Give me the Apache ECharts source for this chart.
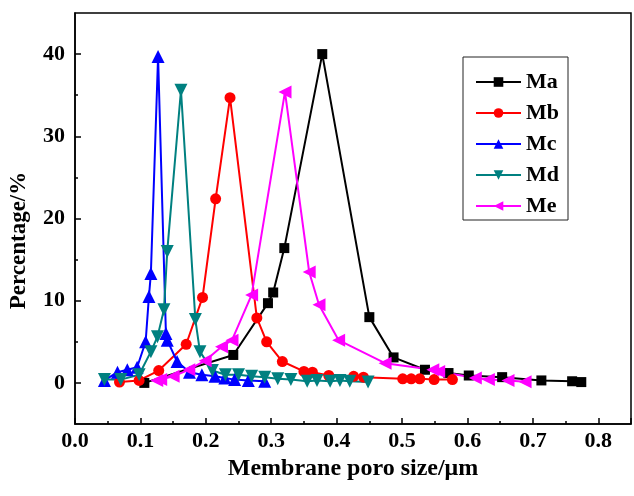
<!DOCTYPE html>
<html>
<head>
<meta charset="utf-8">
<script src="https://cdn.jsdelivr.net/npm/echarts@6/dist/echarts.min.js"></script>
<style>
html,body{margin:0;padding:0;background:#fff;}
#chart{width:634px;height:496px;}
</style>
</head>
<body>
<div id="chart"></div>
<script>
const seriesNames = ['Ma', 'Mb', 'Mc', 'Md', 'Me'];
const Ma = [[0.106,0.0],[0.242,3.4],[0.295,9.7],[0.303,11.0],[0.320,16.4],[0.378,40.0],[0.450,8.0],[0.487,3.1],[0.535,1.6],[0.571,1.2],[0.602,0.9],[0.653,0.7],[0.713,0.3],[0.760,0.2],[0.774,0.1]];
const Mb = [[0.068,0.1],[0.098,0.3],[0.128,1.5],[0.170,4.7],[0.195,10.4],[0.215,22.4],[0.237,34.7],[0.278,7.9],[0.293,5.0],[0.317,2.6],[0.350,1.4],[0.363,1.3],[0.388,0.9],[0.426,0.8],[0.441,0.7],[0.501,0.5],[0.514,0.5],[0.527,0.5],[0.549,0.4],[0.577,0.4]];
const Mc = [[0.045,0.3],[0.065,1.3],[0.080,1.6],[0.095,1.9],[0.108,5.0],[0.113,10.5],[0.116,13.3],[0.127,39.7],[0.139,6.0],[0.141,5.2],[0.156,2.6],[0.175,1.3],[0.194,1.0],[0.214,0.8],[0.229,0.6],[0.244,0.4],[0.265,0.3],[0.290,0.2]];
const Md = [[0.045,0.4],[0.070,0.4],[0.098,1.0],[0.116,3.8],[0.126,5.6],[0.136,8.9],[0.141,16.0],[0.162,35.6],[0.184,7.7],[0.191,3.8],[0.210,1.5],[0.230,1.0],[0.250,1.0],[0.270,0.8],[0.290,0.7],[0.310,0.5],[0.330,0.4],[0.355,0.2],[0.370,0.3],[0.390,0.2],[0.405,0.3],[0.420,0.2],[0.448,0.1]];
const Me = [[0.125,0.3],[0.131,0.4],[0.150,0.8],[0.174,1.6],[0.199,2.7],[0.224,4.4],[0.240,5.2],[0.270,10.7],[0.321,35.4],[0.358,13.5],[0.373,9.5],[0.403,5.2],[0.474,2.4],[0.547,1.6],[0.556,1.4],[0.612,0.6],[0.632,0.4],[0.662,0.3],[0.688,0.15]];
const yMajorTicks = [0, 10, 20, 30, 40];
const yMinorTicks = [5, 15, 25, 35];
const xTitle = 'Membrane poro size/\u03bcm';
const yTitle = 'Percentage/%';

const colors = ['#000000', '#ff0000', '#0000ff', '#008080', '#ff00ff'];
const symbols = ['rect', 'circle', 'triangle', 'triangle', 'triangle'];
const rotations = [0, 0, 0, 180, 90];
const sizes = [10, 11, 13, 13, 13];
const dataList = [Ma, Mb, Mc, Md, Me];
const FONT = '"Liberation Serif", "Times New Roman", serif';

const chart = echarts.init(document.getElementById('chart'));
chart.setOption({
  animation: false,
  backgroundColor: '#fff',
  grid: { left: 75, top: 13, width: 562, height: 411, show: true, borderColor: '#000', borderWidth: 1.5 },
  legend: {
    orient: 'vertical', left: 463, top: 57,
    borderColor: '#222', borderWidth: 1,
    padding: [14, 9, 3, 12], itemGap: 9,
    itemWidth: 45, itemHeight: 12,
    textStyle: { fontFamily: FONT, fontWeight: 'bold', fontSize: 22, lineHeight: 22, color: '#000' },
    data: seriesNames
  },
  xAxis: {
    type: 'value', min: 0, max: 0.85, interval: 0.1,
    name: xTitle, nameLocation: 'middle', nameGap: 25,
    nameTextStyle: { fontFamily: FONT, fontWeight: 'bold', fontSize: 24, color: '#000' },
    axisLine: { onZero: false, lineStyle: { color: '#000', width: 1.5 } },
    axisTick: { inside: true, length: 6, lineStyle: { color: '#000', width: 1.5 } },
    minorTick: { show: true, splitNumber: 2, length: 3, lineStyle: { color: '#000', width: 1.5 } },
    splitLine: { show: false },
    axisLabel: {
      margin: 6, fontFamily: FONT, fontWeight: 'bold', fontSize: 22, color: '#000',
      formatter: function (v) { return Math.abs(v * 10 - Math.round(v * 10)) < 1e-6 ? v.toFixed(1) : ''; }
    }
  },
  yAxis: [{
    type: 'value', min: -5, max: 45,
    name: yTitle, nameLocation: 'middle', nameGap: 44,
    nameTextStyle: { fontFamily: FONT, fontWeight: 'bold', fontSize: 23, color: '#000', padding: [0, 44, 0, 0] },
    axisLine: { onZero: false, lineStyle: { color: '#000', width: 1.5 } },
    axisTick: { inside: true, length: 6, customValues: yMajorTicks, lineStyle: { color: '#000', width: 1.5 } },
    splitLine: { show: false },
    axisLabel: { customValues: yMajorTicks, margin: 10, fontFamily: FONT, fontWeight: 'bold', fontSize: 22, color: '#000' }
  }, {
    type: 'value', min: -5, max: 45, position: 'left',
    axisLine: { show: false, onZero: false },
    axisTick: { show: true, inside: true, length: 3, customValues: yMinorTicks, lineStyle: { color: '#000', width: 1.5 } },
    axisLabel: { show: false },
    splitLine: { show: false }
  }],
  series: seriesNames.map(function (n, i) {
    return {
      name: n, type: 'line', data: dataList[i], yAxisIndex: 0,
      symbol: symbols[i], symbolRotate: rotations[i], symbolSize: sizes[i],
      showAllSymbol: true,
      itemStyle: { color: colors[i] },
      lineStyle: { color: colors[i], width: 2 }
    };
  })
});
</script>
</body>
</html>
